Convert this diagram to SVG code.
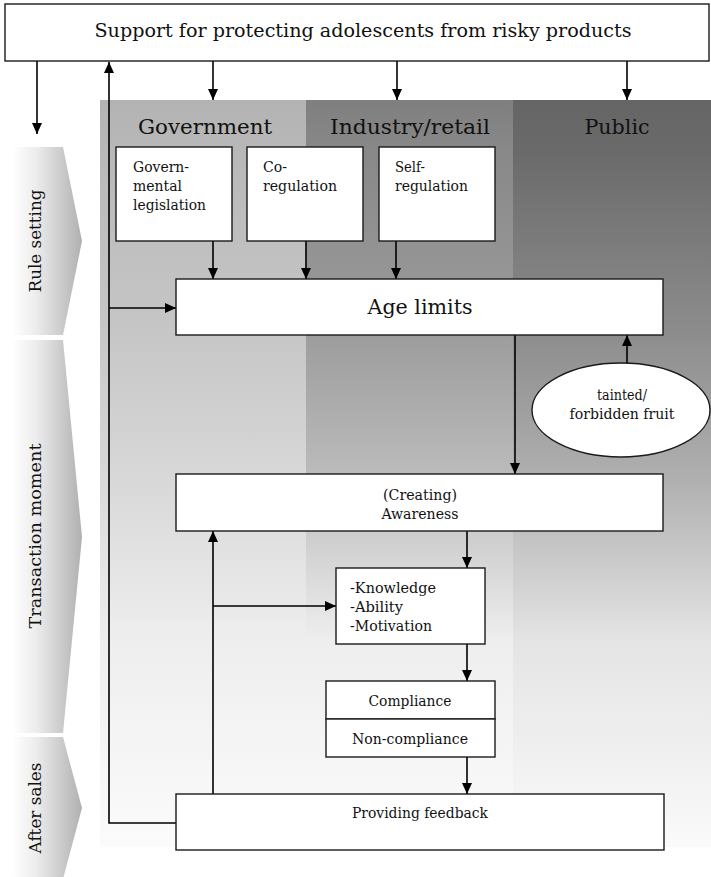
<svg xmlns="http://www.w3.org/2000/svg" width="711" height="877" viewBox="0 0 711 877">
  <style>
    .box { fill: #ffffff; stroke: #1a1a1a; stroke-width: 1.4; }
    .t { font-family: "DejaVu Serif", "Liberation Serif", serif; fill: #111111; }
    .link { fill: none; stroke: #000000; stroke-width: 1.6; }
    .arr { marker-end: url(#head); }
  </style>
  <defs>
    <marker id="head" markerUnits="userSpaceOnUse" markerWidth="11" markerHeight="10" viewBox="0 0 11 10" refX="11" refY="5" orient="auto">
      <path d="M0,0 L11,5 L0,10 z" fill="#000000"/>
    </marker>
    <linearGradient id="gGov" gradientUnits="userSpaceOnUse" x1="0" y1="100" x2="0" y2="847">
      <stop offset="0" stop-color="#b3b3b3"/>
      <stop offset="0.067" stop-color="#b8b8b8"/>
      <stop offset="0.308" stop-color="#c6c6c6"/>
      <stop offset="0.509" stop-color="#d8d8d8"/>
      <stop offset="0.723" stop-color="#eeeeee"/>
      <stop offset="1" stop-color="#fbfbfb"/>
    </linearGradient>
    <linearGradient id="gInd" gradientUnits="userSpaceOnUse" x1="0" y1="100" x2="0" y2="847">
      <stop offset="0" stop-color="#7f7f7f"/>
      <stop offset="0.067" stop-color="#888888"/>
      <stop offset="0.308" stop-color="#9c9c9c"/>
      <stop offset="0.509" stop-color="#bcbcbc"/>
      <stop offset="0.723" stop-color="#eeeeee"/>
      <stop offset="1" stop-color="#fbfbfb"/>
    </linearGradient>
    <linearGradient id="gPub" gradientUnits="userSpaceOnUse" x1="0" y1="100" x2="0" y2="847">
      <stop offset="0" stop-color="#656565"/>
      <stop offset="0.067" stop-color="#6a6a6a"/>
      <stop offset="0.308" stop-color="#8c8c8c"/>
      <stop offset="0.509" stop-color="#b0b0b0"/>
      <stop offset="0.723" stop-color="#e4e4e4"/>
      <stop offset="1" stop-color="#fafafa"/>
    </linearGradient>
    <linearGradient id="gPhase" gradientUnits="userSpaceOnUse" x1="12" y1="0" x2="82" y2="0">
      <stop offset="0" stop-color="#ffffff"/>
      <stop offset="0.35" stop-color="#ececec"/>
      <stop offset="1" stop-color="#b0b0b0"/>
    </linearGradient>
  </defs>

  <rect width="711" height="877" fill="#ffffff"/>

  <!-- stakeholder columns -->
  <g id="columns">
    <rect x="100" y="100" width="206" height="747" fill="url(#gGov)"/>
    <rect x="306" y="100" width="207" height="747" fill="url(#gInd)"/>
    <rect x="513" y="100" width="198" height="747" fill="url(#gPub)"/>
    <text class="t" x="205" y="134" font-size="20.5" text-anchor="middle" textLength="134" lengthAdjust="spacingAndGlyphs">Government</text>
    <text class="t" x="410" y="134" font-size="20.5" text-anchor="middle" textLength="160" lengthAdjust="spacingAndGlyphs">Industry/retail</text>
    <text class="t" x="617" y="134" font-size="20.5" text-anchor="middle" textLength="65" lengthAdjust="spacingAndGlyphs">Public</text>
  </g>

  <!-- phase chevrons -->
  <g id="phase-rule">
    <path d="M12,147 L63,147 L82,241 L63,335 L12,335 z" fill="url(#gPhase)"/>
    <text class="t" transform="translate(41,241) rotate(-90)" font-size="17" text-anchor="middle" textLength="103" lengthAdjust="spacingAndGlyphs">Rule setting</text>
  </g>
  <g id="phase-transaction">
    <path d="M12,340 L63,340 L82,537 L63,733 L12,733 z" fill="url(#gPhase)"/>
    <text class="t" transform="translate(41,536) rotate(-90)" font-size="17" text-anchor="middle" textLength="185" lengthAdjust="spacingAndGlyphs">Transaction moment</text>
  </g>
  <g id="phase-after">
    <path d="M12,737 L63,737 L82,808 L63,879 L12,879 z" fill="url(#gPhase)"/>
    <text class="t" transform="translate(41,808) rotate(-90)" font-size="17" text-anchor="middle" textLength="91" lengthAdjust="spacingAndGlyphs">After sales</text>
  </g>

  <!-- connectors -->
  <g id="connectors">
    <line class="link arr" x1="37" y1="61" x2="37" y2="134"/>
    <line class="link arr" x1="213" y1="61" x2="213" y2="100"/>
    <line class="link arr" x1="397" y1="61" x2="397" y2="100"/>
    <line class="link arr" x1="627" y1="61" x2="627" y2="100"/>
    <path class="link arr" d="M176,823 L109,823 L109,62"/>
    <line class="link arr" x1="109" y1="308" x2="176" y2="308"/>
    <line class="link arr" x1="213" y1="241" x2="213" y2="279"/>
    <line class="link arr" x1="306" y1="241" x2="306" y2="279"/>
    <line class="link arr" x1="396" y1="241" x2="396" y2="279"/>
    <line class="link arr" x1="515" y1="335" x2="515" y2="474"/>
    <line class="link arr" x1="627" y1="363" x2="627" y2="335"/>
    <line class="link arr" x1="467" y1="531" x2="467" y2="568"/>
    <line class="link arr" x1="213" y1="794" x2="213" y2="531"/>
    <line class="link arr" x1="213" y1="606" x2="336" y2="606"/>
    <line class="link arr" x1="467" y1="644" x2="467" y2="681"/>
    <line class="link arr" x1="467" y1="757" x2="467" y2="794"/>
  </g>

  <g id="support">
    <rect class="box" x="5" y="4" width="704" height="57"/>
    <text class="t" x="363" y="37" font-size="19" text-anchor="middle" textLength="537" lengthAdjust="spacingAndGlyphs">Support for protecting adolescents from risky products</text>
  </g>

  <g id="legislation">
    <rect class="box" x="116" y="147" width="116" height="94"/>
    <text class="t" x="133" y="172" font-size="14" textLength="56" lengthAdjust="spacingAndGlyphs">Govern-</text>
    <text class="t" x="133" y="191" font-size="14" textLength="49" lengthAdjust="spacingAndGlyphs">mental</text>
    <text class="t" x="133" y="210" font-size="14" textLength="73" lengthAdjust="spacingAndGlyphs">legislation</text>
  </g>

  <g id="co-regulation">
    <rect class="box" x="247" y="147" width="116" height="94"/>
    <text class="t" x="263" y="172" font-size="14" textLength="24" lengthAdjust="spacingAndGlyphs">Co-</text>
    <text class="t" x="263" y="191" font-size="14" textLength="74" lengthAdjust="spacingAndGlyphs">regulation</text>
  </g>

  <g id="self-regulation">
    <rect class="box" x="379" y="147" width="116" height="94"/>
    <text class="t" x="395" y="172" font-size="14" textLength="30" lengthAdjust="spacingAndGlyphs">Self-</text>
    <text class="t" x="395" y="191" font-size="14" textLength="73" lengthAdjust="spacingAndGlyphs">regulation</text>
  </g>

  <g id="age-limits">
    <rect class="box" x="176" y="279" width="487" height="56"/>
    <text class="t" x="420" y="314" font-size="20.5" text-anchor="middle" textLength="105" lengthAdjust="spacingAndGlyphs">Age limits</text>
  </g>

  <g id="forbidden-fruit">
    <ellipse cx="621" cy="410" rx="89" ry="47" fill="#ffffff" stroke="#1a1a1a" stroke-width="1.4"/>
    <text class="t" x="622" y="400" font-size="15" text-anchor="middle" textLength="50" lengthAdjust="spacingAndGlyphs">tainted/</text>
    <text class="t" x="622" y="419" font-size="15" text-anchor="middle" textLength="105" lengthAdjust="spacingAndGlyphs">forbidden fruit</text>
  </g>

  <g id="awareness">
    <rect class="box" x="176" y="474" width="487" height="57"/>
    <text class="t" x="420" y="500" font-size="14" text-anchor="middle" textLength="74" lengthAdjust="spacingAndGlyphs">(Creating)</text>
    <text class="t" x="420" y="519" font-size="14" text-anchor="middle" textLength="77" lengthAdjust="spacingAndGlyphs">Awareness</text>
  </g>

  <g id="kam">
    <rect class="box" x="336" y="568" width="149" height="76"/>
    <text class="t" x="350" y="593" font-size="14" textLength="86" lengthAdjust="spacingAndGlyphs">-Knowledge</text>
    <text class="t" x="350" y="612" font-size="14" textLength="53" lengthAdjust="spacingAndGlyphs">-Ability</text>
    <text class="t" x="350" y="631" font-size="14" textLength="82" lengthAdjust="spacingAndGlyphs">-Motivation</text>
  </g>

  <g id="compliance">
    <rect class="box" x="326" y="681" width="169" height="38"/>
    <text class="t" x="410" y="706" font-size="14" text-anchor="middle" textLength="83" lengthAdjust="spacingAndGlyphs">Compliance</text>
  </g>

  <g id="non-compliance">
    <rect class="box" x="326" y="719" width="169" height="38"/>
    <text class="t" x="410" y="744" font-size="14" text-anchor="middle" textLength="116" lengthAdjust="spacingAndGlyphs">Non-compliance</text>
  </g>

  <g id="feedback">
    <rect class="box" x="176" y="794" width="488" height="56"/>
    <text class="t" x="420" y="818" font-size="14" text-anchor="middle" textLength="136" lengthAdjust="spacingAndGlyphs">Providing feedback</text>
  </g>
</svg>
